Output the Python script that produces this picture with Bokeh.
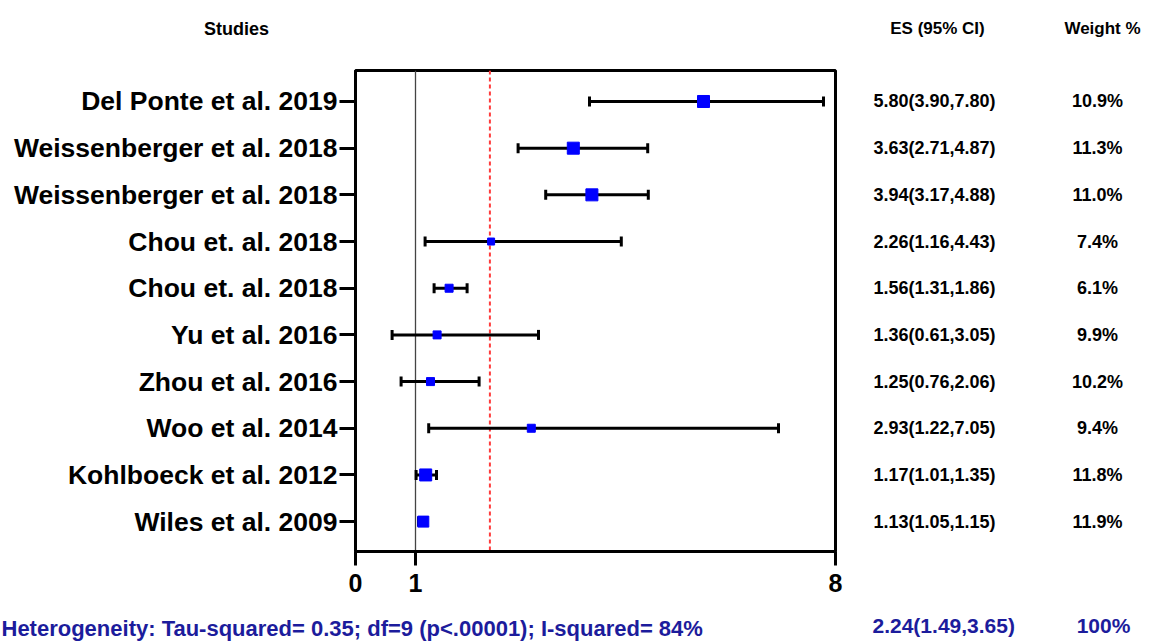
from bokeh.plotting import figure
from bokeh.layouts import column, row
from bokeh.models import Range1d, FixedTicker, Whisker, TeeHead, Span, ColumnDataSource
from bokeh.core.properties import value
from bokeh.embed import file_html
from bokeh.resources import INLINE

# ---------------- data ----------------
studies = ["Del Ponte et al. 2019", "Weissenberger et al. 2018", "Weissenberger et al. 2018",
           "Chou et. al. 2018", "Chou et. al. 2018", "Yu et al. 2016", "Zhou et al. 2016",
           "Woo et al. 2014", "Kohlboeck et al. 2012", "Wiles et al. 2009"]
es = [5.80, 3.63, 3.94, 2.26, 1.56, 1.36, 1.25, 2.93, 1.17, 1.13]
ci_low = [3.90, 2.71, 3.17, 1.16, 1.31, 0.61, 0.76, 1.22, 1.01, 1.05]
ci_high = [7.80, 4.87, 4.88, 4.43, 1.86, 3.05, 2.06, 7.05, 1.35, 1.15]
weights = [10.9, 11.3, 11.0, 7.4, 6.1, 9.9, 10.2, 9.4, 11.8, 11.9]
pooled_es = 2.24
pooled_low = 1.49
pooled_high = 3.65
pooled_weight = 100
x_ticks = [0, 1, 8]
headers = ["Studies", "ES (95% CI)", "Weight %"]
heterogeneity = "Heterogeneity: Tau-squared= 0.35; df=9 (p<.00001); I-squared= 84%"

# ---------------- styles / layout ----------------
marker_px = [12, 12, 12, 7, 8, 8, 8, 8, 12, 11]
FONT = "Liberation Sans"
NAVY = "#1c1c9c"

TOTAL_W, TOTAL_H = 1149, 642
HEADER_H = 65
MAIN_LEFT, FW, MAIN_RIGHT = 355, 480, 10
MAIN_TOP, FH, MAIN_BOTTOM = 5, 481, 52
MAIN_W = MAIN_LEFT + FW + MAIN_RIGHT
MAIN_H = MAIN_TOP + FH + MAIN_BOTTOM
RIGHT_W = TOTAL_W - MAIN_W
FOOT_H = TOTAL_H - HEADER_H - MAIN_H
Y_TOP, Y_BOT = -0.664, 9.64

rows_idx = list(range(len(studies)))
src = ColumnDataSource(dict(y=rows_idx, es=es, lo=ci_low, hi=ci_high, size=marker_px))
y_range = Range1d(Y_BOT, Y_TOP)


def blank(width, height, x_range, y_range):
    f = figure(width=width, height=height, x_range=x_range, y_range=y_range,
               output_backend="svg", toolbar_location=None, min_border=0)
    f.axis.visible = False
    f.grid.visible = False
    f.outline_line_color = None
    f.border_fill_color = "white"
    f.background_fill_color = "white"
    return f


def txt(f, x, y, text, size, color="black", align="center", baseline="middle"):
    f.text(x=x, y=y, text=text, text_font=value(FONT), text_font_style="bold",
           text_font_size=size, text_color=color, text_align=align, text_baseline=baseline)


# ---------------- header strip ----------------
hdr = blank(TOTAL_W, HEADER_H, Range1d(0, TOTAL_W), Range1d(HEADER_H, 0))
txt(hdr, [236], [28], [headers[0]], "18px")
txt(hdr, [937, 1102], [28, 28], headers[1:], "17px")

# ---------------- main forest plot ----------------
p = figure(frame_width=FW, frame_height=FH, min_border_left=MAIN_LEFT, min_border_right=MAIN_RIGHT,
           min_border_top=MAIN_TOP, min_border_bottom=MAIN_BOTTOM,
           x_range=Range1d(0, 8), y_range=y_range,
           output_backend="svg", toolbar_location=None)
p.grid.visible = False
p.outline_line_color = "black"
p.outline_line_width = 3
p.outline_line_alpha = 1
p.background_fill_color = "white"
p.border_fill_color = "white"

p.yaxis.ticker = FixedTicker(ticks=rows_idx)
p.yaxis.major_label_overrides = {i: s for i, s in enumerate(studies)}
p.yaxis.major_label_text_font = FONT
p.yaxis.major_label_text_font_style = "bold"
p.yaxis.major_label_text_font_size = "26.5px"
p.yaxis.major_label_text_color = "black"
p.yaxis.major_tick_out = 16
p.yaxis.major_tick_in = 0
p.yaxis.minor_tick_out = 0
p.yaxis.minor_tick_in = 0
p.yaxis.major_tick_line_width = 3
p.yaxis.axis_line_width = 3
p.yaxis.major_label_standoff = 2

p.xaxis.ticker = FixedTicker(ticks=x_ticks)
p.xaxis.major_label_text_font = FONT
p.xaxis.major_label_text_font_style = "bold"
p.xaxis.major_label_text_font_size = "25px"
p.xaxis.major_label_text_color = "black"
p.xaxis.major_tick_out = 14
p.xaxis.major_tick_in = 0
p.xaxis.minor_tick_out = 0
p.xaxis.minor_tick_in = 0
p.xaxis.major_tick_line_width = 3
p.xaxis.axis_line_width = 3
p.xaxis.major_label_standoff = 8

p.add_layout(Span(location=1, dimension="height", line_color="#444444", line_width=1.3, level="underlay"))
p.add_layout(Span(location=pooled_es, dimension="height", line_color="#ff3b3b", line_width=2,
                  line_dash="4 3", level="underlay"))

wk = Whisker(source=src, base="y", lower="lo", upper="hi", dimension="width",
             line_color="black", line_width=3,
             lower_head=TeeHead(size=10, line_color="black", line_width=3),
             upper_head=TeeHead(size=10, line_color="black", line_width=3))
p.add_layout(wk)

p.scatter(x="es", y="y", size="size", marker="square", source=src,
          fill_color="#0000ff", line_color="#0000ff")

# ---------------- right columns ----------------
rt = figure(frame_width=RIGHT_W, frame_height=FH, min_border_left=0, min_border_right=0,
            min_border_top=MAIN_TOP, min_border_bottom=MAIN_BOTTOM,
            x_range=Range1d(MAIN_W, TOTAL_W), y_range=y_range,
            output_backend="svg", toolbar_location=None)
rt.axis.visible = False
rt.grid.visible = False
rt.outline_line_color = None
rt.border_fill_color = "white"
es_txt = [f"{e:.2f}({lo:.2f},{hi:.2f})" for e, lo, hi in zip(es, ci_low, ci_high)]
w_txt = [f"{w:.1f}%" for w in weights]
txt(rt, [873] * len(rows_idx), rows_idx, es_txt, "18px", align="left")
txt(rt, [1097] * len(rows_idx), rows_idx, w_txt, "18px")

# ---------------- footer ----------------
ft = blank(TOTAL_W, FOOT_H, Range1d(0, TOTAL_W), Range1d(FOOT_H, 0))
mid = 25
txt(ft, [1], [mid], [heterogeneity], "22px", color=NAVY, align="left")
txt(ft, [872], [mid - 3], [f"{pooled_es:.2f}({pooled_low:.2f},{pooled_high:.2f})"], "21px",
    color=NAVY, align="left")
txt(ft, [1103], [mid - 3], [f"{pooled_weight}%"], "21px", color=NAVY)

layout = column(hdr, row(p, rt), ft)
open("out.html", "w").write(file_html(layout, INLINE))
